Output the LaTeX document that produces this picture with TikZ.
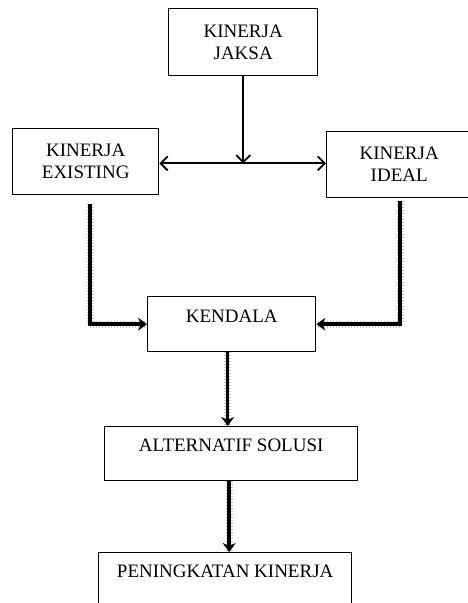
\documentclass[tikz,border=0pt]{standalone}
\usepackage{fontspec}
\setmainfont{Liberation Serif}
\usetikzlibrary{positioning, calc, arrows.meta}
\tikzset{
  kotak/.style={draw, line width=1.4pt, inner sep=0pt, anchor=north west, align=center, font=\fontsize{19}{22}\selectfont},
  panahatas/.style={line width=2pt, -{Straight Barb[length=7pt,width=14pt,line width=1.8pt]}},
  panahbawah/.style={line width=3.5pt, -{Stealth[length=9pt,width=13pt,inset=3pt]},
    preaction={draw, -, gray!50, line width=7pt, dash pattern=on 0.7pt off 2.3pt}}
}
\begin{document}
\begin{tikzpicture}[x=1pt, y=-1pt]
               \useasboundingbox (0,0) rectangle (467,603);
               \node[kotak, minimum width=149, minimum height=67] (jaksa) at (168,8) {KINERJA\\JAKSA};
               \node[kotak, minimum width=146, minimum height=66] (existing) at (12,128) {KINERJA\\EXISTING};
               \node[kotak, minimum width=145, minimum height=66] (ideal) at (326,131) {KINERJA\\IDEAL};
               \node[kotak, minimum width=168, minimum height=55, text height=13, text depth=16] (kendala) at (147,296) {KENDALA};
               \node[kotak, minimum width=253, minimum height=54, text height=13, text depth=17.6] (alternatif) at (104,426) {ALTERNATIF SOLUSI};
               \node[kotak, minimum width=253, minimum height=60, text height=13, text depth=23.6] (peningkatan) at (98,552) {PENINGKATAN KINERJA};
               \coordinate (simpang) at ($(jaksa.south)+(0,87)$);
               \draw[panahatas] (jaksa.south) -- (simpang);
               \draw[panahatas] (simpang) -- (simpang -| existing.east);
               \draw[panahatas] (simpang) -- (simpang -| ideal.west);
               \draw[panahbawah] ([shift={(78,9)}]existing.south west) |- (kendala.west);
               \draw[panahbawah] ([shift={(74,3)}]ideal.south west) |- (kendala.east);
               \draw[panahbawah] ([xshift=-4pt]kendala.south) -- ([xshift=-4pt]kendala.south |- alternatif.north);
               \draw[panahbawah] ([xshift=-2pt]alternatif.south) -- ([xshift=-2pt]alternatif.south |- peningkatan.north);
\end{tikzpicture}
\end{document}
